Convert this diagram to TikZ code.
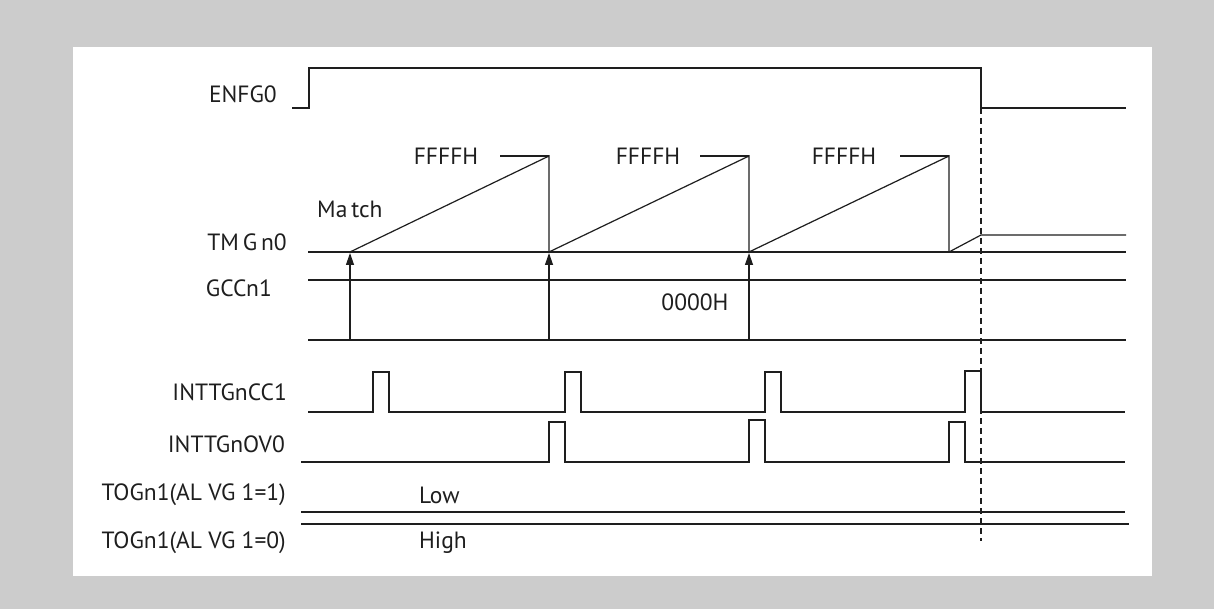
\documentclass[tikz,border=0pt]{standalone}
\usepackage{fontspec}
\setmainfont{PT Sans}
\usetikzlibrary{arrows.meta}
\definecolor{bggray}{HTML}{CCCCCC}
\definecolor{ink}{HTML}{1E1E1E}
\begin{document}
\begin{tikzpicture}[x=1pt,y=-1pt,
  sig/.style={draw=ink, line width=1.2pt, line join=miter},
  lbl/.style={inner sep=0pt, text=ink, font=\fontsize{23.5}{26}\selectfont},
  trig/.style={draw=ink, fill=ink, line width=1.2pt, -{Triangle[length=12pt,width=8pt]}},
  marker/.style={draw=ink, dash pattern=on 6pt off 4pt, line width=1.2pt}]
\useasboundingbox (0,0) rectangle (1214,609);
\fill[bggray] (0,0) rectangle (1214,609);
\fill[white] (73,47) rectangle (1152,576);

% labels
\node[lbl, anchor=base east] (lENFG) at (277,103) {ENFG0};
\node[lbl, anchor=base east] (lTMG) at (287,251) {TM\,G\,n0};
\node[lbl, anchor=base east] (lGCC) at (272,297) {GCCn1};
\node[lbl, anchor=base east] (lCC1) at (287,400) {INTTGnCC1};
\node[lbl, anchor=base east] (lOV0) at (285,452) {INTTGnOV0};
\node[lbl, anchor=base east] (lTOG1) at (286,500) {TOGn1(AL VG 1=1)};
\node[lbl, anchor=base east] (lTOG0) at (286,548) {TOGn1(AL VG 1=0)};
\node[lbl, anchor=base west] (lMatch) at (317,218) {Ma\,tch};
\node[lbl, anchor=base] (lF1) at (446,165) {FFFFH};
\node[lbl, anchor=base] (lF2) at (648,165) {FFFFH};
\node[lbl, anchor=base] (lF3) at (844,165) {FFFFH};
\node[lbl, anchor=base] (l0000) at (695,310) {0000H};
\node[lbl, anchor=base west] (lLow) at (419,503) {Low};
\node[lbl, anchor=base west] (lHigh) at (419,548) {High};

% ENFG0
\draw[sig] (292,108) -- (309,108) -- (309,68) -- (981,68) -- (981,108) -- (1126,108);

% TMGn0
\draw[sig] (308,252) -- (1126,252);
\draw[sig] (350,252) -- (549,156) -- (549,252);
\draw[sig] (549,252) -- (749,156) -- (749,252);
\draw[sig] (749,252) -- (949,156) -- (949,252);
\draw[sig] (949,252) -- (981,235) -- (1126,235);
\draw[sig] (500,156) -- (549,156);
\draw[sig] (700,156) -- (749,156);
\draw[sig] (900,156) -- (949,156);

% GCCn1
\draw[sig] (308,280) -- (1126,280);
\draw[sig] (308,340) -- (1126,340);
\coordinate (b1) at (350,340); \coordinate (t1) at (350,253);
\coordinate (b2) at (549,340); \coordinate (t2) at (549,253);
\coordinate (b3) at (749,340); \coordinate (t3) at (749,253);
\draw[trig] (b1) -- (t1);
\draw[trig] (b2) -- (t2);
\draw[trig] (b3) -- (t3);

% INTTGnCC1
\draw[sig] (308,412) -- (373,412) -- (373,372) -- (389,372) -- (389,412)
  -- (565,412) -- (565,372) -- (581,372) -- (581,412)
  -- (765,412) -- (765,372) -- (781,372) -- (781,412)
  -- (965,412) -- (965,371) -- (981,371) -- (981,412) -- (1125,412);

% INTTGnOV0
\draw[sig] (301,462) -- (549,462) -- (549,422) -- (565,422) -- (565,462)
  -- (749,462) -- (749,420) -- (765,420) -- (765,462)
  -- (949,462) -- (949,422) -- (965,422) -- (965,462) -- (1125,462);

% TOGn1
\draw[sig] (301,512) -- (1125,512);
\draw[sig] (301,524) -- (1129,524);

% dashed stop marker
\coordinate (dTop) at (981,108);
\coordinate (dBot) at (981,541);
\draw[marker] (dTop) -- (dBot);
\end{tikzpicture}
\end{document}
